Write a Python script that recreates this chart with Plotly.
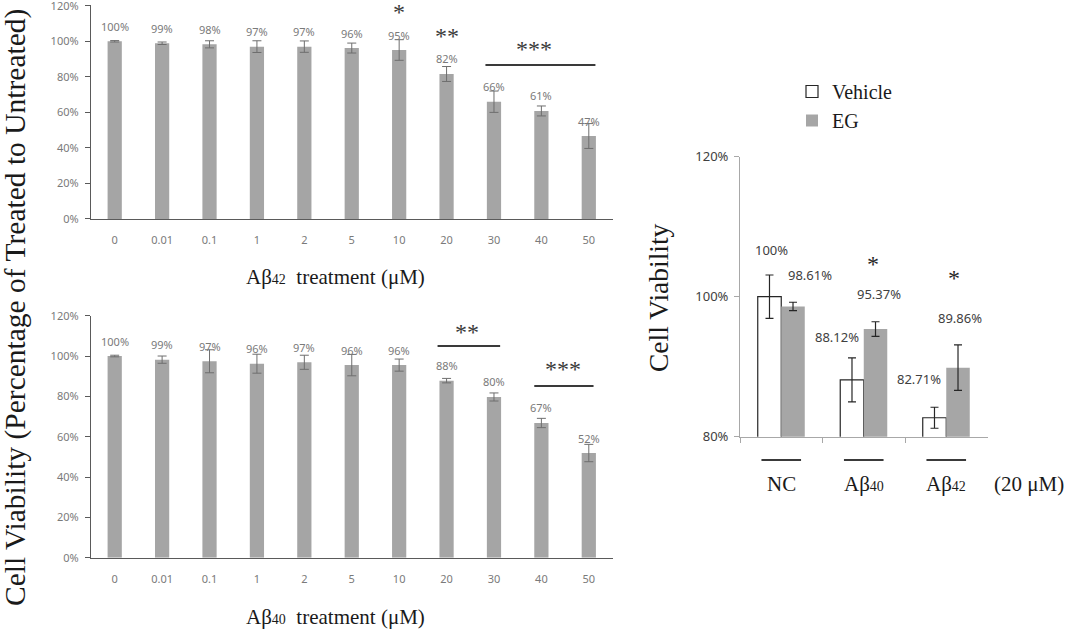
import plotly.graph_objects as go

W, H = 1065, 630

# ---------------- data ----------------
conc_labels = ["0", "0.01", "0.1", "1", "2", "5", "10", "20", "30", "40", "50"]

ab42_mean = [100.0, 98.9, 98.3, 97.0, 97.0, 96.2, 95.1, 81.6, 66.0, 60.8, 46.7]
ab42_err = [0.4, 0.7, 2.0, 3.3, 3.2, 2.8, 5.8, 4.2, 6.0, 2.8, 7.0]
ab42_text = ["100%", "99%", "98%", "97%", "97%", "96%", "95%", "82%", "66%", "61%", "47%"]

ab40_mean = [100.0, 98.2, 97.4, 96.2, 96.9, 95.5, 95.5, 87.8, 79.7, 66.8, 51.9]
ab40_err = [0.4, 1.8, 5.7, 4.7, 3.5, 5.3, 3.0, 1.1, 2.0, 2.3, 4.3]
ab40_text = ["100%", "99%", "97%", "96%", "97%", "96%", "96%", "88%", "80%", "67%", "52%"]

groups = ["NC", "Aβ40", "Aβ42"]
group_labels = ["NC", "Aβ<span style='font-size:14px'>40</span>", "Aβ<span style='font-size:14px'>42</span>"]
vehicle_mean = [100.0, 88.12, 82.71]
vehicle_err = [3.1, 3.15, 1.5]
vehicle_text = ["100%", "88.12%", "82.71%"]
eg_mean = [98.61, 95.37, 89.86]
eg_err = [0.6, 1.05, 3.25]
eg_text = ["98.61%", "95.37%", "89.86%"]

left_yticks = [0, 20, 40, 60, 80, 100, 120]
right_yticks = [80, 100, 120]

# significance marks: (first category, last category, label)
sig_ab42 = [("10", "10", "*"), ("20", "20", "**"), ("30", "50", "***")]
sig_ab40 = [("20", "30", "**"), ("40", "50", "***")]
sig_right = [("Aβ40", "*"), ("Aβ42", "*")]

# ---------------- styles ----------------
SERIF = "Liberation Serif"
SANS = "Noto Sans"
BAR_GRAY = "#a5a5a5"
LABEL_GRAY = "#7a7a7a"
AXIS_DARK = "#5a5a5a"
AXIS_LIGHT = "#a8a8a8"


def px_x(p):
    return p / W


def px_y(p):
    return 1 - p / H


def ann(**kw):
    d = dict(showarrow=False, xanchor="center", yanchor="middle")
    d.update(kw)
    return d


fig = go.Figure()

fig.add_trace(go.Bar(
    x=conc_labels, y=ab42_mean, xaxis="x", yaxis="y", width=0.30,
    marker=dict(color=BAR_GRAY, line=dict(width=0)),
    error_y=dict(type="data", array=ab42_err, color="#6e6e6e", thickness=1, width=4.5),
    showlegend=False))

fig.add_trace(go.Bar(
    x=conc_labels, y=ab40_mean, xaxis="x2", yaxis="y2", width=0.30,
    marker=dict(color=BAR_GRAY, line=dict(width=0)),
    error_y=dict(type="data", array=ab40_err, color="#6e6e6e", thickness=1, width=4.5),
    showlegend=False))

fig.add_trace(go.Bar(
    x=groups, y=vehicle_mean, xaxis="x3", yaxis="y3", name="Vehicle",
    marker=dict(color="white", line=dict(color="#262626", width=1.2)),
    error_y=dict(type="data", array=vehicle_err, color="#262626", thickness=1.2, width=4)))

fig.add_trace(go.Bar(
    x=groups, y=eg_mean, xaxis="x3", yaxis="y3", name="EG",
    marker=dict(color="#a6a6a6", line=dict(width=0)),
    error_y=dict(type="data", array=eg_err, color="#262626", thickness=1.2, width=4)))

annotations = []
shapes = []

# data labels, left charts (x given as category index)
for xa, ya, means, texts in (("x", "y", ab42_mean, ab42_text), ("x2", "y2", ab40_mean, ab40_text)):
    for i, (m, t) in enumerate(zip(means, texts)):
        annotations.append(ann(x=i, y=m, xref=xa, yref=ya, text=t, yshift=15,
                               font=dict(family=SANS, size=11, color=LABEL_GRAY)))

# significance, left charts (line level / star level in data units, shifts)
sig_style_ab42 = [dict(line=None, star=117.6, sx=0),
                  dict(line=None, star=104.1, sx=0),
                  dict(line=86.7, star=97.0, s0=-0.18, s1=0.14, sx=-7)]
sig_style_ab40 = [dict(line=105.0, star=112.9, s0=-0.19, s1=0.13, sx=20),
                  dict(line=85.1, star=94.7, s0=-0.15, s1=0.10, sx=22)]

for xa, ya, sigs, styles in (("x", "y", sig_ab42, sig_style_ab42), ("x2", "y2", sig_ab40, sig_style_ab40)):
    for (c0, c1, lab), st in zip(sigs, styles):
        i0, i1 = conc_labels.index(c0), conc_labels.index(c1)
        mid = (i0 + i1) // 2
        annotations.append(ann(x=mid, y=st["star"], xref=xa, yref=ya, text=lab,
                               xshift=st["sx"], yshift=-2,
                               font=dict(family=SERIF, size=24, color="#3a3a3a")))
        if st["line"] is not None:
            shapes.append(dict(type="line", xref=xa, yref=ya,
                               x0=i0 + st["s0"], x1=i1 + st["s1"],
                               y0=st["line"], y1=st["line"],
                               line=dict(color="#3a3a3a", width=2)))

# data labels, right chart (pixel offsets for manual placement)
veh_off = [(2, 47), (-15, 43), (-15, 39)]
eg_off = [(17, 31), (3, 35), (2, 50)]
for i, (m, t, (dx, dy)) in enumerate(zip(vehicle_mean, vehicle_text, veh_off)):
    annotations.append(ann(x=i, y=m, xref="x3", yref="y3", text=t,
                           xshift=-12 + dx, yshift=dy,
                           font=dict(family=SANS, size=13, color="#404040")))
for i, (m, t, (dx, dy)) in enumerate(zip(eg_mean, eg_text, eg_off)):
    annotations.append(ann(x=i, y=m, xref="x3", yref="y3", text=t,
                           xshift=12 + dx, yshift=dy,
                           font=dict(family=SANS, size=13, color="#404040")))

star_off = [(-3, 67), (-4, 92)]
for (g, lab), (dx, dy) in zip(sig_right, star_off):
    i = groups.index(g)
    annotations.append(ann(x=i, y=eg_mean[i], xref="x3", yref="y3", text=lab,
                           xshift=12 + dx, yshift=dy - 2,
                           font=dict(family=SERIF, size=24, color="#262626")))

# category labels and underlines, right chart
for i, lab in enumerate(group_labels):
    annotations.append(ann(x=i, y=px_y(484), xref="x3", yref="paper", text=lab,
                           font=dict(family=SERIF, size=21, color="#1a1a1a")))
    shapes.append(dict(type="line", xref="x3", yref="paper", x0=i - 0.24, x1=i + 0.24,
                       y0=px_y(460), y1=px_y(460),
                       line=dict(color="#3a3a3a", width=2)))
annotations.append(ann(x=px_x(1029), y=px_y(484), xref="paper", yref="paper", text="(20 μM)",
                       font=dict(family=SERIF, size=21, color="#1a1a1a")))

# axis titles
annotations.append(ann(x=px_x(15), y=px_y(308), xref="paper", yref="paper", textangle=-90,
                       text="Cell Viability (Percentage of Treated to Untreated)",
                       font=dict(family=SERIF, size=29.5, color="#1a1a1a")))
annotations.append(ann(x=px_x(335), y=px_y(277), xref="paper", yref="paper",
                       text="Aβ<span style='font-size:14px'>42</span>\u00a0 treatment (μM)",
                       font=dict(family=SERIF, size=21, color="#1a1a1a")))
annotations.append(ann(x=px_x(335), y=px_y(617), xref="paper", yref="paper",
                       text="Aβ<span style='font-size:14px'>40</span>\u00a0 treatment (μM)",
                       font=dict(family=SERIF, size=21, color="#1a1a1a")))
annotations.append(ann(x=px_x(658), y=px_y(298), xref="paper", yref="paper", textangle=-90,
                       text="Cell Viability",
                       font=dict(family=SERIF, size=27.5, color="#1a1a1a")))

left_x = dict(type="category", domain=[px_x(91), px_x(612.5)], range=[-0.5, 10.5],
              showline=True, linecolor=AXIS_DARK, linewidth=1.3, ticks="", showgrid=False,
              tickfont=dict(family=SANS, size=11, color=LABEL_GRAY), ticklabelstandoff=11,
              zeroline=False, automargin=False)
left_y = dict(tickvals=left_yticks, ticktext=[f"{v}%" for v in left_yticks],
              showline=True, linecolor=AXIS_DARK, linewidth=1.3, ticks="outside", ticklen=5,
              tickcolor=AXIS_DARK, showgrid=False, zeroline=False, automargin=False,
              ticklabeloverflow="allow",
              tickfont=dict(family=SANS, size=11, color=LABEL_GRAY), ticklabelstandoff=4)

fig.update_layout(
    width=W, height=H, margin=dict(l=0, r=0, t=0, b=0, autoexpand=False),
    paper_bgcolor="white", plot_bgcolor="white",
    barmode="group", bargap=0.43, bargroupgap=0,
    xaxis=dict(left_x, anchor="y"),
    yaxis=dict(left_y, range=[0, 120.4], domain=[px_y(219), px_y(219 - 120.4 * 1.777)], anchor="x"),
    xaxis2=dict(left_x, anchor="y2"),
    yaxis2=dict(left_y, range=[0, 120], domain=[px_y(557.7), px_y(315.7)], anchor="x2"),
    xaxis3=dict(type="category", domain=[px_x(740), px_x(987.5)], range=[-0.5, 2.5], anchor="y3",
                showline=True, linecolor=AXIS_LIGHT, linewidth=1, ticks="outside", ticklen=5,
                tickcolor=AXIS_LIGHT, tickson="boundaries", showticklabels=False, showgrid=False,
                automargin=False),
    yaxis3=dict(range=[80, 120], tickvals=right_yticks, ticktext=[f"{v}%" for v in right_yticks],
                domain=[px_y(436.7), px_y(156.7)], anchor="x3",
                showline=True, linecolor=AXIS_LIGHT, linewidth=1, ticks="outside", ticklen=5,
                tickcolor=AXIS_LIGHT, showgrid=False, zeroline=False, automargin=False,
                tickfont=dict(family=SANS, size=13, color="#404040"), ticklabelstandoff=3),
    legend=dict(x=px_x(792), y=px_y(72), xanchor="left", yanchor="top",
                font=dict(family=SERIF, size=20, color="#1a1a1a"), bgcolor="rgba(0,0,0,0)",
                tracegroupgap=0, itemwidth=30),
    annotations=annotations,
    shapes=shapes,
)

fig.write_html("out.html", config={"displayModeBar": False},
               post_script="document.body.style.margin='0';document.body.style.overflow='hidden';")
